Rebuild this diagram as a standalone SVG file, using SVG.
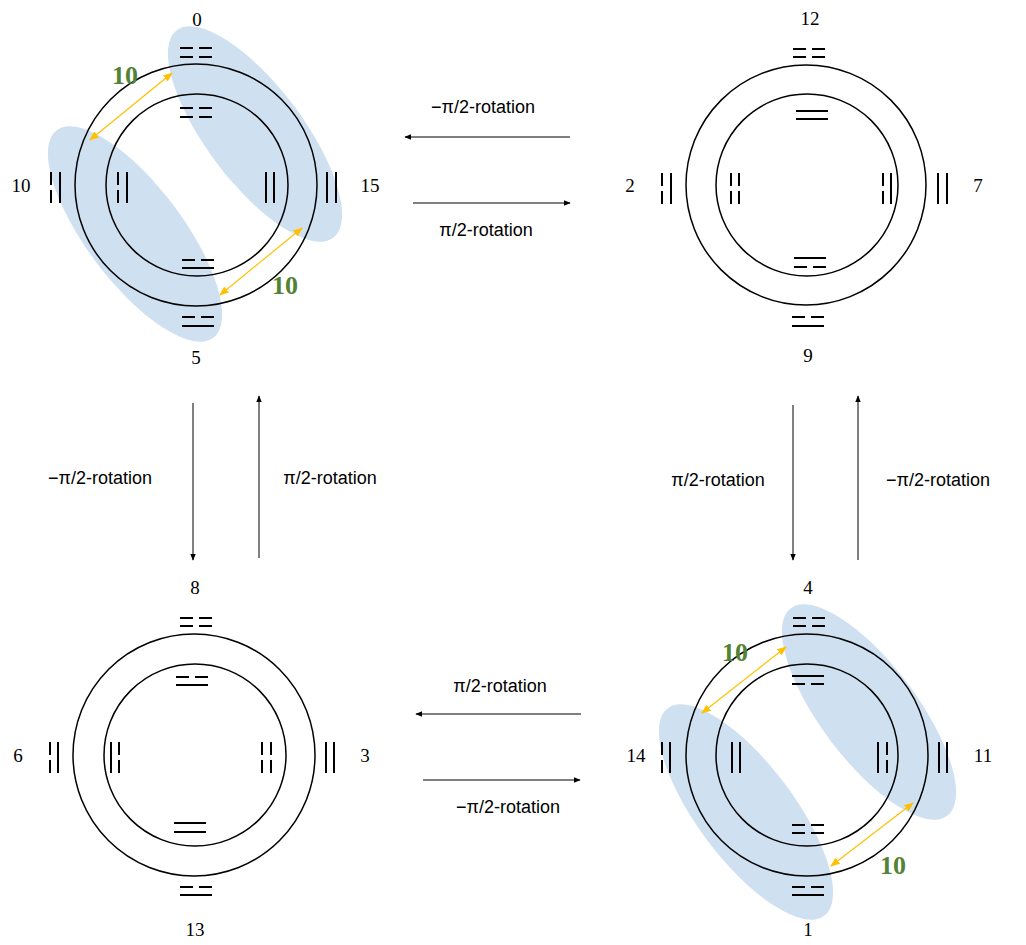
<svg xmlns="http://www.w3.org/2000/svg" width="1026" height="945" viewBox="0 0 1026 945">
<style>
.g{stroke:#000;stroke-width:2;fill:none}
.ring{stroke:#000;stroke-width:1.5;fill:none}
.el{fill:#cfe0f1}
.num{font-family:"Liberation Serif",serif;font-size:19px;text-anchor:middle;fill:#000}
.lab{font-family:"Liberation Sans",sans-serif;font-size:18px;text-anchor:middle;fill:#000}
.ten{font-family:"Liberation Serif",serif;font-size:26px;font-weight:bold;fill:#548235;text-anchor:middle}
.ya{stroke:#ffc000;stroke-width:1.2;marker-start:url(#ya);marker-end:url(#ya)}
.ar{stroke:#000;stroke-width:1;marker-end:url(#ah)}
</style>
<defs>
<marker id="ah" viewBox="0 0 10 10" refX="9" refY="5" markerWidth="7" markerHeight="7" orient="auto-start-reverse"><path d="M0,1L10,5L0,9z" fill="#000"/></marker>
<marker id="ya" viewBox="0 0 10 10" refX="9" refY="5" markerWidth="8" markerHeight="8" orient="auto-start-reverse"><path d="M0,1L10,5L0,9z" fill="#ffc000"/></marker>
<path id="hs" d="M0,0h32"/>
<path id="hb" d="M0,0h13M19,0h13"/>
<path id="vs" d="M0,0v31"/>
<path id="vb" d="M0,0v13M0,18v13"/>
</defs>
<rect width="1026" height="945" fill="#fff"/>

<g id="node-tl">
<ellipse class="el" cx="255" cy="134" rx="130" ry="48" transform="rotate(53 255 134)"/>
<ellipse class="el" cx="135" cy="234" rx="130" ry="48" transform="rotate(53 135 234)"/>
<circle class="ring" cx="196" cy="185" r="121"/>
<circle class="ring" cx="197" cy="185" r="91"/>
<g class="g">
<use href="#hb" x="180" y="48"/><use href="#hb" x="180" y="57"/>
<use href="#hb" x="180" y="108"/><use href="#hb" x="180" y="117"/>
<use href="#hb" x="182" y="260"/><use href="#hs" x="182" y="268"/>
<use href="#hb" x="182" y="317"/><use href="#hs" x="182" y="326"/>
<use href="#vb" x="51" y="172"/><use href="#vs" x="60" y="172"/>
<use href="#vb" x="118" y="172"/><use href="#vs" x="127" y="172"/>
<use href="#vs" x="266" y="172"/><use href="#vs" x="274" y="172"/>
<use href="#vs" x="327" y="172"/><use href="#vs" x="336" y="172"/>
</g>
<line class="ya" x1="172" y1="73" x2="90" y2="140"/>
<line class="ya" x1="302" y1="228" x2="220" y2="295"/>
<text class="ten" x="125" y="84">10</text>
<text class="ten" x="285" y="294">10</text>
<text class="num" x="197" y="26">0</text>
<text class="num" x="21" y="192">10</text>
<text class="num" x="370" y="192">15</text>
<text class="num" x="196" y="364">5</text>
</g>

<g id="node-tr">
<circle class="ring" cx="806" cy="185" r="120"/>
<circle class="ring" cx="807" cy="185" r="91"/>
<g class="g">
<use href="#hb" x="793" y="49"/><use href="#hb" x="793" y="57"/>
<use href="#hs" x="796" y="111"/><use href="#hs" x="796" y="119"/>
<use href="#hs" x="794" y="258"/><use href="#hb" x="794" y="267"/>
<use href="#hb" x="792" y="317"/><use href="#hs" x="792" y="326"/>
<use href="#vb" x="662" y="173"/><use href="#vs" x="671" y="173"/>
<use href="#vb" x="731" y="173"/><use href="#vb" x="739" y="173"/>
<use href="#vb" x="883" y="173"/><use href="#vs" x="891" y="173"/>
<use href="#vs" x="938" y="173"/><use href="#vs" x="947" y="173"/>
</g>
<text class="num" x="810" y="25">12</text>
<text class="num" x="630" y="192">2</text>
<text class="num" x="978" y="192">7</text>
<text class="num" x="808" y="362">9</text>
</g>

<g id="node-bl">
<circle class="ring" cx="194" cy="755" r="121"/>
<circle class="ring" cx="195" cy="755" r="91"/>
<g class="g">
<use href="#hb" x="180" y="618"/><use href="#hb" x="180" y="626"/>
<use href="#hb" x="176" y="677"/><use href="#hs" x="176" y="685"/>
<use href="#hs" x="174" y="823"/><use href="#hs" x="174" y="832"/>
<use href="#hb" x="180" y="887"/><use href="#hs" x="180" y="895"/>
<use href="#vb" x="50" y="742"/><use href="#vs" x="58" y="742"/>
<use href="#vs" x="111" y="742"/><use href="#vb" x="119" y="742"/>
<use href="#vb" x="262" y="742"/><use href="#vb" x="271" y="742"/>
<use href="#vs" x="326" y="742"/><use href="#vs" x="334" y="742"/>
</g>
<text class="num" x="195" y="594">8</text>
<text class="num" x="18" y="762">6</text>
<text class="num" x="365" y="762">3</text>
<text class="num" x="195" y="936">13</text>
</g>

<g id="node-br">
<ellipse class="el" cx="869" cy="712" rx="130" ry="48" transform="rotate(53 869 712)"/>
<ellipse class="el" cx="746" cy="812" rx="130" ry="48" transform="rotate(53 746 812)"/>
<circle class="ring" cx="807" cy="755" r="121"/>
<circle class="ring" cx="807" cy="755" r="91"/>
<g class="g">
<use href="#hb" x="793" y="618"/><use href="#hb" x="793" y="626"/>
<use href="#hs" x="792" y="676"/><use href="#hb" x="792" y="684"/>
<use href="#hb" x="792" y="825"/><use href="#hb" x="792" y="833"/>
<use href="#hb" x="792" y="887"/><use href="#hs" x="792" y="895"/>
<use href="#vb" x="662" y="742"/><use href="#vs" x="670" y="742"/>
<use href="#vs" x="732" y="742"/><use href="#vs" x="740" y="742"/>
<use href="#vs" x="878" y="742"/><use href="#vb" x="887" y="742"/>
<use href="#vs" x="939" y="742"/><use href="#vs" x="947" y="742"/>
</g>
<line class="ya" x1="786" y1="647" x2="702" y2="713"/>
<line class="ya" x1="913" y1="803" x2="831" y2="866"/>
<text class="ten" x="735" y="661">10</text>
<text class="ten" x="893" y="874">10</text>
<text class="num" x="808" y="594">4</text>
<text class="num" x="636" y="762">14</text>
<text class="num" x="983" y="762">11</text>
<text class="num" x="808" y="936">1</text>
</g>

<g id="connectors">
<line class="ar" x1="570" y1="137" x2="405" y2="137"/>
<line class="ar" x1="413" y1="203" x2="570" y2="203"/>
<line class="ar" x1="193" y1="403" x2="193" y2="560"/>
<line class="ar" x1="259" y1="558" x2="259" y2="396"/>
<line class="ar" x1="793" y1="405" x2="793" y2="560"/>
<line class="ar" x1="858" y1="560" x2="858" y2="396"/>
<line class="ar" x1="581" y1="714" x2="416" y2="714"/>
<line class="ar" x1="423" y1="780" x2="580" y2="780"/>
<text class="lab" x="483" y="113">−π/2-rotation</text>
<text class="lab" x="486" y="236">π/2-rotation</text>
<text class="lab" x="100" y="484">−π/2-rotation</text>
<text class="lab" x="330" y="484">π/2-rotation</text>
<text class="lab" x="718" y="486">π/2-rotation</text>
<text class="lab" x="938" y="486">−π/2-rotation</text>
<text class="lab" x="500" y="692">π/2-rotation</text>
<text class="lab" x="508" y="813">−π/2-rotation</text>
</g>
</svg>
